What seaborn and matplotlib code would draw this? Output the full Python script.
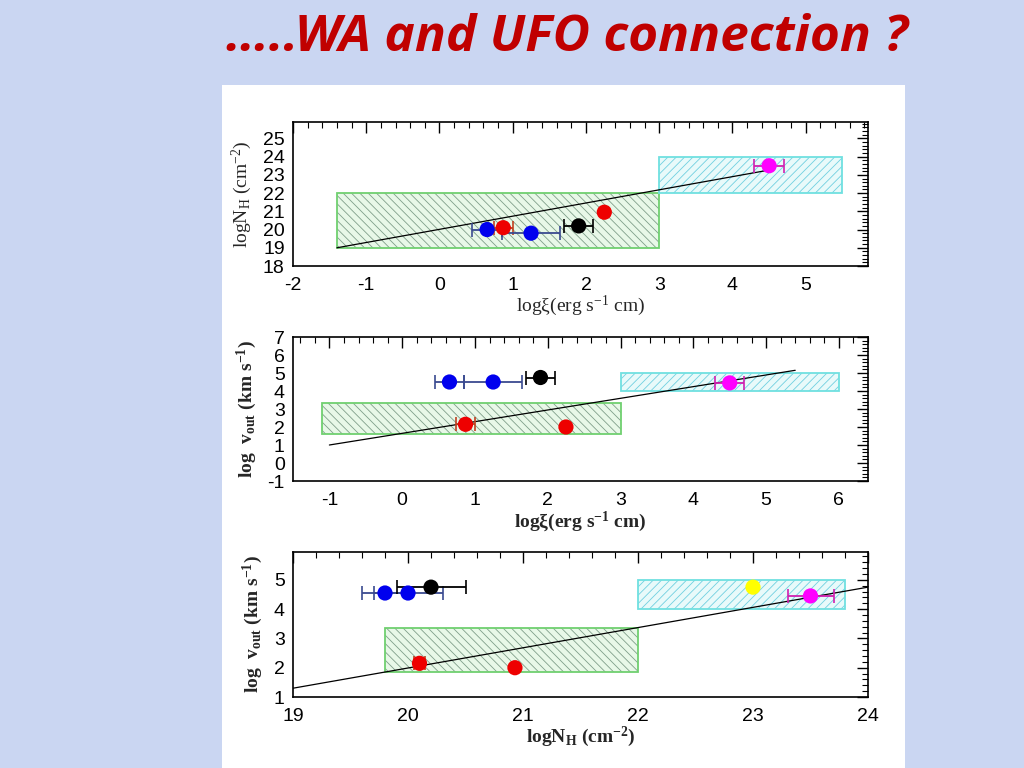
import matplotlib
matplotlib.use("Agg")
import matplotlib.pyplot as plt
from matplotlib.patches import Rectangle
from matplotlib.ticker import MultipleLocator
import seaborn as sns
import pandas as pd

sns.set_theme(style="white")
plt.rcParams['font.family'] = ['Liberation Sans', 'DejaVu Sans']
plt.rcParams['mathtext.default'] = 'regular'
plt.rcParams['axes.unicode_minus'] = False
plt.rcParams['hatch.linewidth'] = 0.6

# ---------------- data ----------------
title_text = "…..WA and UFO connection ?"

# panel 1: log xi vs log NH
p1_x = [0.65, 0.87, 1.25, 1.9, 2.25, 4.5]
p1_y = [20.0, 20.1, 19.8, 20.2, 20.95, 23.5]
p1_xerr = [0.2, 0.13, 0.4, 0.2, 0.0, 0.2]
p1_col = ["#0000ee", "#ee0000", "#0000ee", "#000000", "#ee0000", "#ff00ff"]
p1_line_x = [-1.4, 4.55]
p1_line_y = [19.0, 23.3]
p1_wa_box = [-1.4, 3.0, 19.0, 22.0]
p1_ufo_box = [3.0, 5.5, 22.0, 24.0]

# panel 2: log xi vs log vout
p2_x = [0.65, 1.25, 1.9, 0.87, 2.25, 4.5]
p2_y = [4.5, 4.5, 4.75, 2.15, 2.0, 4.45]
p2_xerr = [0.2, 0.4, 0.2, 0.13, 0.0, 0.2]
p2_col = ["#0000ee", "#0000ee", "#000000", "#ee0000", "#ee0000", "#ff00ff"]
p2_line_x = [-1.0, 5.4]
p2_line_y = [1.0, 5.15]
p2_wa_box = [-1.1, 3.0, 1.6, 3.35]
p2_ufo_box = [3.0, 6.0, 4.0, 5.0]

# panel 3: log NH vs log vout
p3_x = [19.8, 20.0, 20.2, 20.1, 20.93, 23.0, 23.5]
p3_y = [4.55, 4.55, 4.75, 2.15, 2.0, 4.75, 4.45]
p3_xerr = [0.2, 0.3, 0.3, 0.05, 0.0, 0.0, 0.2]
p3_col = ["#0000ee", "#0000ee", "#000000", "#ee0000", "#ee0000", "#ffff00", "#ff00ff"]
p3_line_x = [19.0, 24.0]
p3_line_y = [1.3, 4.75]
p3_wa_box = [19.8, 22.0, 1.85, 3.35]
p3_ufo_box = [22.0, 23.8, 4.0, 5.0]

err_col = {"#0000ee": "#3a4a90", "#ee0000": "#c04020", "#000000": "#000000",
           "#ff00ff": "#d020b0", "#ffff00": "#ffff00"}

# ---------------- figure ----------------
fig = plt.figure(figsize=(10.24, 7.68), dpi=100)
fig.patch.set_facecolor("#cad6f2")
fig.add_artist(Rectangle((222 / 1024, 0), (905 - 222) / 1024, 1 - 85 / 768,
                         transform=fig.transFigure, facecolor="white",
                         edgecolor="none", zorder=0))

fig.text(567 / 1024, 1 - 38 / 768, title_text, ha="center", va="center",
         color="#c00000", fontsize=37, fontweight="bold", style="italic",
         family=["Open Sans", "DejaVu Sans"])


def box(ax, b, face, edge, hatchc, hatch):
    x0, x1, y0, y1 = b
    ax.add_patch(Rectangle((x0, y0), x1 - x0, y1 - y0, facecolor=face,
                           edgecolor="none", zorder=1))
    ax.add_patch(Rectangle((x0, y0), x1 - x0, y1 - y0, facecolor="none",
                           edgecolor=hatchc, hatch=hatch, linewidth=0, zorder=1.5))
    ax.add_patch(Rectangle((x0, y0), x1 - x0, y1 - y0, facecolor="none",
                           edgecolor=edge, linewidth=1.3, zorder=2))


def panel(rect, xs, ys, xerr, cols, lx, ly, wa, ufo, xlim, ylim, xmin, ymin,
          xlabel, ylabel, bold):
    ax = fig.add_axes(rect)
    ax.set_facecolor("white")
    box(ax, wa, "#e8f8e8", "#70d070", "#7f9f8a", "\\\\\\\\")
    box(ax, ufo, "#e8fafa", "#70e0e0", "#70d0e0", "////")
    ax.plot(lx, ly, color="black", lw=0.9, zorder=3)
    for x, y, e, c in zip(xs, ys, xerr, cols):
        if e > 0:
            ax.errorbar([x], [y], xerr=[e], fmt="none", ecolor=err_col[c],
                        elinewidth=1.3, capsize=5, capthick=1.2, zorder=4)
    df = pd.DataFrame({"x": xs, "y": ys, "c": cols})
    sns.scatterplot(data=df, x="x", y="y", hue="c",
                    palette={c: c for c in set(cols)}, s=120,
                    edgecolor="none", legend=False, ax=ax, zorder=5)
    ax.set_xlim(*xlim)
    ax.set_ylim(*ylim)
    ax.xaxis.set_major_locator(MultipleLocator(1))
    ax.yaxis.set_major_locator(MultipleLocator(1))
    ax.xaxis.set_minor_locator(MultipleLocator(xmin))
    ax.yaxis.set_minor_locator(MultipleLocator(ymin))
    ax.tick_params(which="both", direction="in", top=True, right=True,
                   labelsize=14, colors="black")
    ax.tick_params(which="major", length=8, width=1)
    ax.tick_params(which="minor", length=4, width=0.8)
    ax.tick_params(axis="x", which="major", pad=8)
    ax.tick_params(axis="y", which="major", pad=6)
    for s in ax.spines.values():
        s.set_color("black")
        s.set_linewidth(1.2)
    w = "bold" if bold else "normal"
    ax.set_xlabel(xlabel, fontsize=14, family=["Liberation Serif"], fontweight=w,
                  labelpad=0)
    ax.set_ylabel(ylabel, fontsize=14, family=["Liberation Serif"], fontweight=w,
                  labelpad=6)
    for lab in ax.get_xticklabels() + ax.get_yticklabels():
        lab.set_family(["Liberation Sans"])
    return ax


panel([293 / 1024, 1 - 266 / 768, (868 - 293) / 1024, (266 - 122) / 768],
      p1_x, p1_y, p1_xerr, p1_col, p1_line_x, p1_line_y, p1_wa_box, p1_ufo_box,
      (-2, 5.85), (18, 25.9), 0.2, 0.2,
      "logξ(erg s$^{-1}$ cm)", "logN$_H$ (cm$^{-2}$)", False)

panel([293 / 1024, 1 - 481 / 768, (868 - 293) / 1024, (481 - 337) / 768],
      p2_x, p2_y, p2_xerr, p2_col, p2_line_x, p2_line_y, p2_wa_box, p2_ufo_box,
      (-1.5, 6.4), (-1, 7), 0.2, 0.2,
      "logξ(erg s$^{-1}$ cm)", "log  v$_{out}$ (km s$^{-1}$)", True)

panel([293 / 1024, 1 - 697 / 768, (868 - 293) / 1024, (697 - 552) / 768],
      p3_x, p3_y, p3_xerr, p3_col, p3_line_x, p3_line_y, p3_wa_box, p3_ufo_box,
      (19, 24), (1, 5.95), 0.2, 0.2,
      "logN$_H$ (cm$^{-2}$)", "log  v$_{out}$ (km s$^{-1}$)", True)

fig.savefig("out.png", dpi=100, facecolor=fig.get_facecolor())
